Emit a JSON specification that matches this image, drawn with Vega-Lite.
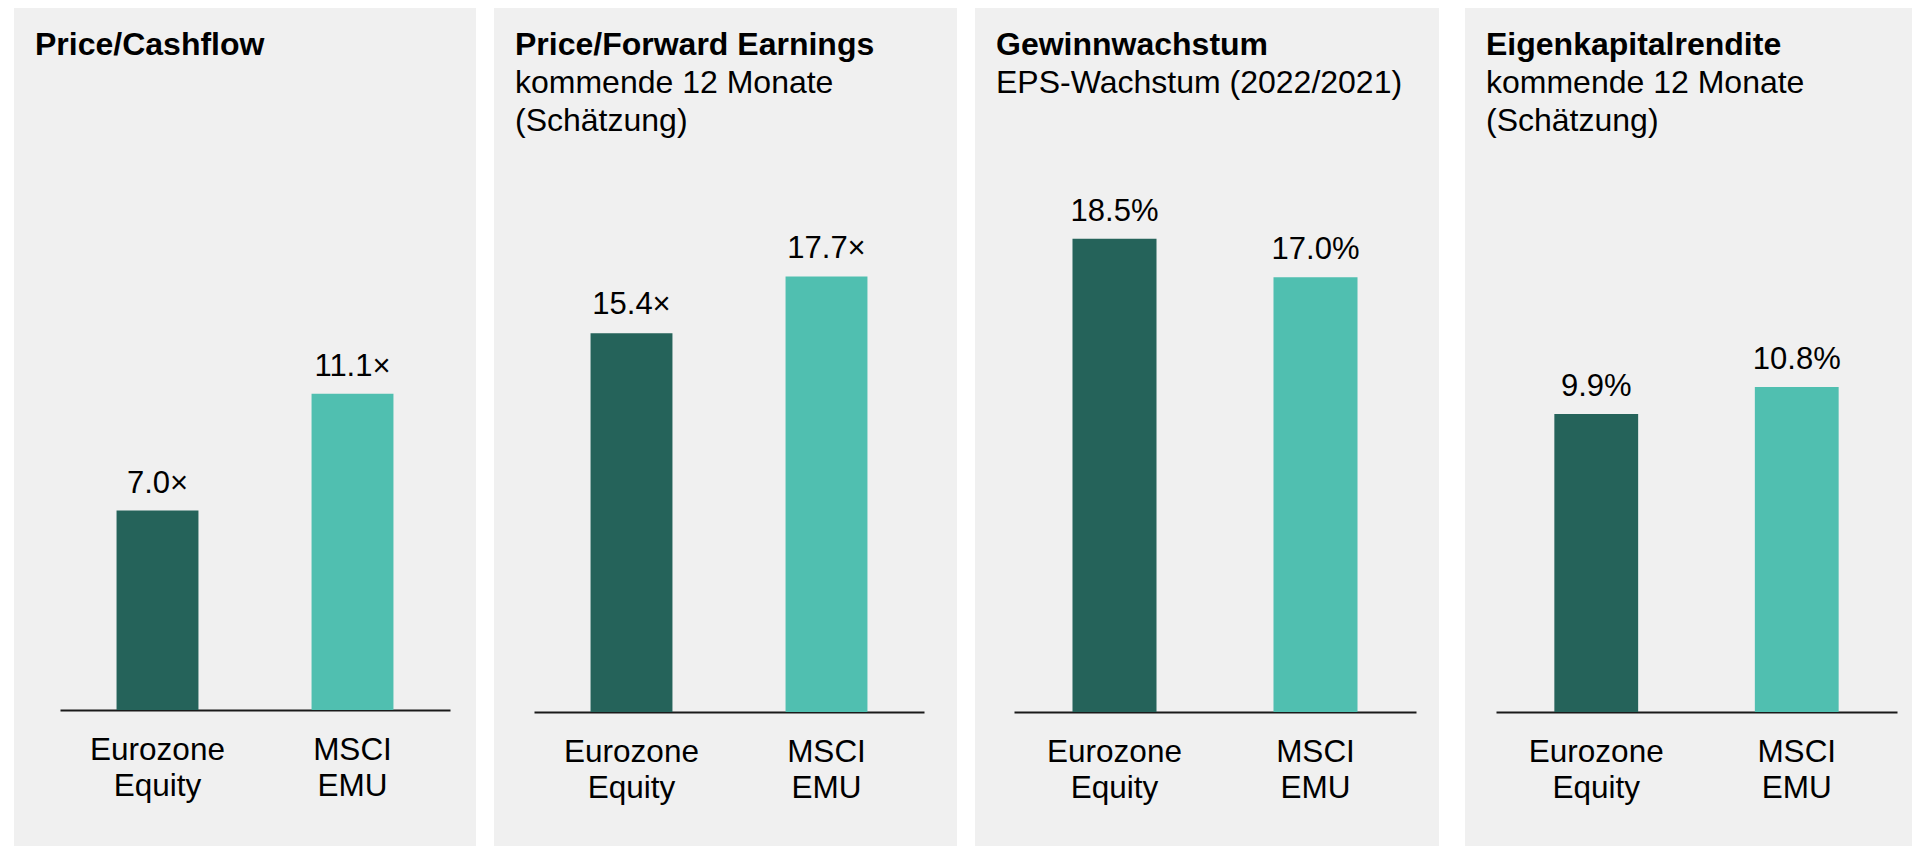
{
  "$schema": "https://vega.github.io/schema/vega-lite/v6.json",
  "background": "white",
  "padding": {"left": 14, "top": 8, "right": 0, "bottom": 0},
  "config": {
    "view": {"fill": "#f0f0f0", "stroke": null},
    "font": "Liberation Sans",
    "axis": {
      "domainColor": "#1a1a1a",
      "domainWidth": 2,
      "ticks": false,
      "tickSize": 0,
      "grid": false,
      "labelFont": "Liberation Sans",
      "labelFontSize": 31.5,
      "labelColor": "black",
      "labelPadding": 24,
      "labelLineHeight": 36,
      "labelAngle": 0,
      "labelExpr": "split(datum.label, ' ')",
      "title": null
    },
    "title": {
      "orient": "bottom",
      "anchor": "start",
      "frame": "group",
      "offset": -816,
      "dx": 21,
      "baseline": "top",
      "font": "Liberation Sans",
      "fontSize": 32,
      "fontWeight": "bold",
      "color": "black",
      "subtitleFont": "Liberation Sans",
      "subtitleFontSize": 32,
      "subtitleFontWeight": "normal",
      "subtitleColor": "black",
      "subtitlePadding": 6,
      "subtitleLineHeight": 38
    }
  },
  "datasets": {
    "d": [
      {"panel": "pc", "name": "Eurozone Equity", "value": 7.0, "label": "7.0×"},
      {"panel": "pc", "name": "MSCI EMU", "value": 11.1, "label": "11.1×"},
      {"panel": "pe", "name": "Eurozone Equity", "value": 15.4, "label": "15.4×"},
      {"panel": "pe", "name": "MSCI EMU", "value": 17.7, "label": "17.7×"},
      {"panel": "eps", "name": "Eurozone Equity", "value": 18.5, "label": "18.5%"},
      {"panel": "eps", "name": "MSCI EMU", "value": 17.0, "label": "17.0%"},
      {"panel": "roe", "name": "Eurozone Equity", "value": 9.9, "label": "9.9%"},
      {"panel": "roe", "name": "MSCI EMU", "value": 10.8, "label": "10.8%"}
    ]
  },
  "spacing": 26,
  "hconcat": [
    {
      "spacing": 18,
      "hconcat": [
        {
          "width": 462,
          "height": 838,
          "title": {"text": "Price/Cashflow"},
          "data": {"name": "d"},
          "transform": [{"filter": "datum.panel === 'pc'"}],
          "encoding": {
            "x": {"field": "name", "type": "nominal", "sort": null,
                  "scale": {"range": [46, 436], "paddingInner": 0.58, "paddingOuter": 0.29},
                  "axis": {"offset": -136}},
            "y": {"field": "value", "type": "quantitative",
                  "scale": {"domain": [0, 20], "range": [702, 132]}, "axis": null}
          },
          "layer": [
            {"mark": {"type": "bar"},
             "encoding": {"color": {"field": "name", "type": "nominal", "scale": {"range": ["#25635a", "#50bfb0"]}, "legend": null}}},
            {"mark": {"type": "text", "dy": -18, "fontSize": 31, "color": "black", "baseline": "alphabetic"},
             "encoding": {"text": {"field": "label"}}}
          ]
        },
        {
          "width": 463,
          "height": 838,
          "title": {"text": "Price/Forward Earnings", "subtitle": ["kommende 12 Monate", "(Schätzung)"]},
          "data": {"name": "d"},
          "transform": [{"filter": "datum.panel === 'pe'"}],
          "encoding": {
            "x": {"field": "name", "type": "nominal", "sort": null,
                  "scale": {"range": [40, 430], "paddingInner": 0.58, "paddingOuter": 0.29},
                  "axis": {"offset": -134}},
            "y": {"field": "value", "type": "quantitative",
                  "scale": {"domain": [0, 20], "range": [704, 212]}, "axis": null}
          },
          "layer": [
            {"mark": {"type": "bar"},
             "encoding": {"color": {"field": "name", "type": "nominal", "scale": {"range": ["#25635a", "#50bfb0"]}, "legend": null}}},
            {"mark": {"type": "text", "dy": -19, "fontSize": 31, "color": "black", "baseline": "alphabetic"},
             "encoding": {"text": {"field": "label"}}}
          ]
        },
        {
          "width": 464,
          "height": 838,
          "title": {"text": "Gewinnwachstum", "subtitle": ["EPS-Wachstum (2022/2021)"]},
          "data": {"name": "d"},
          "transform": [{"filter": "datum.panel === 'eps'"}],
          "encoding": {
            "x": {"field": "name", "type": "nominal", "sort": null,
                  "scale": {"range": [39, 441], "paddingInner": 0.582, "paddingOuter": 0.291},
                  "axis": {"offset": -134}},
            "y": {"field": "value", "type": "quantitative",
                  "scale": {"domain": [0, 20], "range": [704, 192.4]}, "axis": null}
          },
          "layer": [
            {"mark": {"type": "bar"},
             "encoding": {"color": {"field": "name", "type": "nominal", "scale": {"range": ["#25635a", "#50bfb0"]}, "legend": null}}},
            {"mark": {"type": "text", "dy": -18, "fontSize": 31, "color": "black", "baseline": "alphabetic"},
             "encoding": {"text": {"field": "label"}}}
          ]
        }
      ]
    },
    {
      "width": 447,
      "height": 838,
      "title": {"text": "Eigenkapitalrendite", "subtitle": ["kommende 12 Monate", "(Schätzung)"]},
      "data": {"name": "d"},
      "transform": [{"filter": "datum.panel === 'roe'"}],
      "encoding": {
        "x": {"field": "name", "type": "nominal", "sort": null,
              "scale": {"range": [31, 432], "paddingInner": 0.582, "paddingOuter": 0.291},
              "axis": {"offset": -134}},
        "y": {"field": "value", "type": "quantitative",
              "scale": {"domain": [0, 20], "range": [704, 102]}, "axis": null}
      },
      "layer": [
        {"mark": {"type": "bar"},
         "encoding": {"color": {"field": "name", "type": "nominal", "scale": {"range": ["#25635a", "#50bfb0"]}, "legend": null}}},
        {"mark": {"type": "text", "dy": -18, "fontSize": 31, "color": "black", "baseline": "alphabetic"},
         "encoding": {"text": {"field": "label"}}}
      ]
    }
  ]
}
